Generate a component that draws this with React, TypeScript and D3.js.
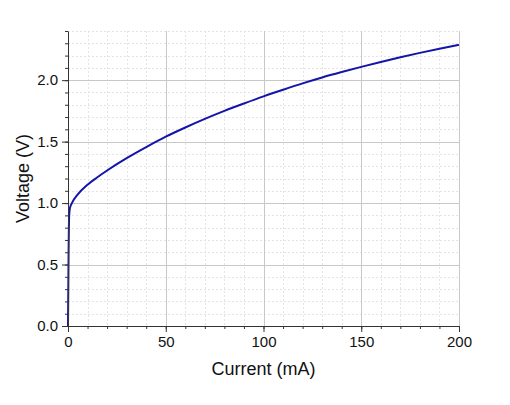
import React, { useEffect, useRef } from "react";
import * as d3 from "d3";

// Diode I-V curve
const currentMA = [0, 0.3, 0.6, 1, 2, 5, 10, 15, 20, 30, 40, 50, 60, 70, 80, 90, 100, 110, 120, 130, 140, 150, 160, 170, 180, 190, 200];
const voltageV = [0, 0.6, 0.9, 0.96, 1.0, 1.07, 1.15, 1.21, 1.265, 1.365, 1.455, 1.54, 1.615, 1.685, 1.75, 1.81, 1.868, 1.922, 1.974, 2.022, 2.066, 2.108, 2.148, 2.186, 2.222, 2.256, 2.287];

const xMajor = [0, 50, 100, 150, 200];
const yMajor = [0, 0.5, 1.0, 1.5, 2.0];

const drawChart = (ref: SVGSVGElement) => {
    const width = 510;
    const height = 405;
    const margin = { top: 31, right: 51, bottom: 79, left: 68 };
    const innerW = width - margin.left - margin.right;
    const innerH = height - margin.top - margin.bottom;

    d3.select(ref).selectAll("*").remove();
    const svg = d3
        .select(ref)
        .attr("width", width)
        .attr("height", height)
        .append("g")
        .attr("transform", `translate(${margin.left},${margin.top})`);

    const x = d3.scaleLinear().domain([0, 200]).range([0, innerW]);
    const y = d3.scaleLinear().domain([0, 2.4]).range([innerH, 0]);

    const xMinor = d3.range(0, 201, 10);
    const yMinor = d3.range(0, 25).map((d) => d / 10);

    // minor grid
    svg.append("g")
        .selectAll("line")
        .data(xMinor.filter((d) => d % 50 !== 0))
        .enter()
        .append("line")
        .attr("x1", (d) => Math.round(x(d)) + 0.5)
        .attr("x2", (d) => Math.round(x(d)) + 0.5)
        .attr("y1", 0)
        .attr("y2", innerH)
        .attr("stroke", "#e4e4e4")
        .attr("stroke-dasharray", "2,2");
    svg.append("g")
        .selectAll("line")
        .data(yMinor.filter((d) => Math.round(d * 10) % 5 !== 0))
        .enter()
        .append("line")
        .attr("x1", 0)
        .attr("x2", innerW)
        .attr("y1", (d) => Math.round(y(d)) + 0.5)
        .attr("y2", (d) => Math.round(y(d)) + 0.5)
        .attr("stroke", "#e4e4e4")
        .attr("stroke-dasharray", "2,2");

    // major grid
    svg.append("g")
        .selectAll("line")
        .data(xMajor.filter((d) => d > 0))
        .enter()
        .append("line")
        .attr("x1", (d) => Math.round(x(d)) + 0.5)
        .attr("x2", (d) => Math.round(x(d)) + 0.5)
        .attr("y1", 0)
        .attr("y2", innerH)
        .attr("stroke", "#c8c8c8");
    svg.append("g")
        .selectAll("line")
        .data(yMajor.filter((d) => d > 0))
        .enter()
        .append("line")
        .attr("x1", 0)
        .attr("x2", innerW)
        .attr("y1", (d) => Math.round(y(d)) + 0.5)
        .attr("y2", (d) => Math.round(y(d)) + 0.5)
        .attr("stroke", "#c8c8c8");

    // curve
    const line = d3
        .line<number>()
        .x((d, i) => x(currentMA[i]))
        .y((d) => y(d))
        .curve(d3.curveMonotoneX);
    svg.append("path")
        .datum(voltageV)
        .attr("d", line)
        .attr("fill", "none")
        .attr("stroke", "#1414a8")
        .attr("stroke-width", 2);

    const font = "'Liberation Sans', Arial, sans-serif";

    // x axis
    const xAxis = svg.append("g").attr("transform", `translate(0,${innerH})`);
    xAxis.call(d3.axisBottom(x).tickValues(xMinor).tickSize(3).tickFormat(() => ""));
    xAxis.call((g) => g.select(".domain").remove());
    const xMaj = svg.append("g").attr("transform", `translate(0,${innerH})`);
    xMaj.call(d3.axisBottom(x).tickValues(xMajor).tickSize(6).tickSizeOuter(0).tickPadding(4).tickFormat(d3.format("d")));
    xMaj.selectAll("text").style("font-family", font).style("font-size", "15px").attr("fill", "#111");
    xAxis.selectAll("line").attr("stroke", "#333");
    xMaj.selectAll("line,path").attr("stroke", "#333");

    // y axis
    const yAxis = svg.append("g");
    yAxis.call(d3.axisLeft(y).tickValues(yMinor).tickSize(3).tickFormat(() => ""));
    yAxis.call((g) => g.select(".domain").remove());
    const yMaj = svg.append("g");
    yMaj.call(d3.axisLeft(y).tickValues(yMajor).tickSize(6).tickSizeOuter(0).tickPadding(4).tickFormat(d3.format(".1f")));
    yMaj.selectAll("text").style("font-family", font).style("font-size", "15px").attr("fill", "#111");
    yAxis.selectAll("line").attr("stroke", "#333");
    yMaj.selectAll("line,path").attr("stroke", "#333");

    // titles
    svg.append("text")
        .attr("x", innerW / 2)
        .attr("y", innerH + 49)
        .attr("text-anchor", "middle")
        .style("font-family", font)
        .style("font-size", "18px")
        .attr("fill", "#111")
        .text("Current (mA)");
    svg.append("text")
        .attr("transform", `translate(${-39},${innerH / 2}) rotate(-90)`)
        .attr("text-anchor", "middle")
        .style("font-family", font)
        .style("font-size", "18px")
        .attr("fill", "#111")
        .text("Voltage (V)");
};

export default function App() {
    const svgRef = useRef<SVGSVGElement>(null);

    useEffect(() => {
        if (svgRef.current) drawChart(svgRef.current);
    }, []);

    return <svg ref={svgRef} style={{ position: "absolute", left: 0, top: 0, background: "#fff" }} />;
}
